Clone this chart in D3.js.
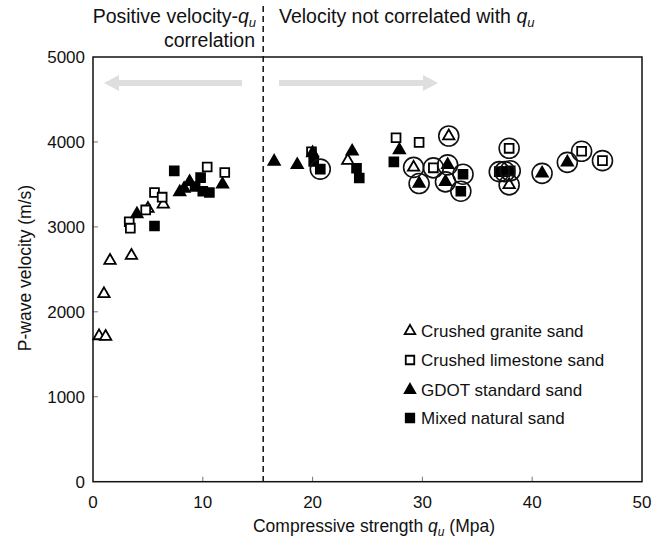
<html>
<head>
<script src="https://d3js.org/d3.v7.min.js"></script>
<style>
  body { margin: 0; background: #fff; }
  text { font-family: "Liberation Sans", Arial, sans-serif; fill: #111; }
</style>
</head>
<body>
<svg width="667" height="541"></svg>
<script>
// [qu (MPa), P-wave velocity (m/s), circled]
var granite = [[0.55,1716,0],[1.15,1708,0],[1.0,2211,0],[1.55,2604,0],[3.5,2663,0],[5.0,3215,0],[6.4,3265,0],
  [23.2,3780,0],[32.4,4070,1],[29.2,3700,1],[37.9,3495,1]];
var limestone = [[3.3,3060,0],[3.4,2985,0],[4.8,3200,0],[5.6,3405,0],[6.3,3350,0],[10.4,3705,0],[12.0,3640,0],
  [19.9,3885,0],[27.6,4050,0],[29.7,3995,0],[31.0,3695,1],[37.9,3925,1],[44.5,3890,1],[46.4,3780,1]];
var gdot = [[4.0,3150,0],[7.9,3410,0],[8.3,3450,0],[8.8,3530,0],[11.8,3500,0],[16.5,3770,0],[18.6,3730,0],
  [20.0,3870,0],[23.6,3890,0],[27.9,3905,0],[29.7,3510,1],[32.3,3730,1],[32.1,3530,1],[40.9,3630,1],[43.2,3760,1]];
var mixed = [[5.6,3010,0],[7.4,3660,0],[9.3,3475,0],[9.8,3580,0],[10.0,3420,0],[10.6,3405,0],[20.1,3770,0],
  [20.7,3680,1],[24.0,3690,0],[24.25,3575,0],[27.4,3765,0],[33.7,3620,1],[33.5,3420,1],[37.0,3650,1],[37.5,3650,1],[38.0,3660,1]];

var xTicks = [0, 10, 20, 30, 40, 50];
var yTicks = [0, 1000, 2000, 3000, 4000, 5000];
var splitQu = 15.5;

var svg = d3.select("svg");
var pLeft = 93, pRight = 642, pTop = 57, pBottom = 481.7;

var x = d3.scaleLinear().domain([0, 50]).range([pLeft, pRight]);
var y = d3.scaleLinear().domain([0, 5000]).range([pBottom, pTop]);

// light gray arrows
var arrowY = 83;
function arrow(x0, x1) {
  var dir = x1 > x0 ? 1 : -1, head = 15;
  svg.append("line").attr("x1", x0).attr("x2", x1 - dir * head).attr("y1", arrowY).attr("y2", arrowY)
    .attr("stroke", "#dedede").attr("stroke-width", 6);
  svg.append("path")
    .attr("d", "M" + x1 + "," + arrowY + "L" + (x1 - dir * head) + "," + (arrowY - 8) + "L" + (x1 - dir * head) + "," + (arrowY + 8) + "Z")
    .attr("fill", "#dedede");
}
arrow(242, 104);
arrow(279, 438);

// ticks (inside)
svg.append("g").selectAll("line").data(xTicks.slice(1, -1)).enter().append("line")
  .attr("x1", d => x(d)).attr("x2", d => x(d)).attr("y1", pBottom).attr("y2", pBottom - 5)
  .attr("stroke", "#777").attr("stroke-width", 1);
svg.append("g").selectAll("line").data(yTicks.slice(1, -1)).enter().append("line")
  .attr("x1", pLeft).attr("x2", pLeft + 5).attr("y1", d => y(d)).attr("y2", d => y(d))
  .attr("stroke", "#777").attr("stroke-width", 1);

// frame
svg.append("rect").attr("x", pLeft).attr("y", pTop).attr("width", pRight - pLeft).attr("height", pBottom - pTop)
  .attr("fill", "none").attr("stroke", "#111").attr("stroke-width", 1.5);

// tick labels
svg.append("g").selectAll("text").data(xTicks).enter().append("text")
  .attr("x", d => x(d)).attr("y", 508).attr("text-anchor", "middle").style("font-size", "17px").text(d => d);
svg.append("g").selectAll("text").data(yTicks).enter().append("text")
  .attr("x", 85).attr("y", d => y(d) + 6).attr("text-anchor", "end").style("font-size", "17px").text(d => d);

// axis titles
var xt = svg.append("text").attr("x", 374).attr("y", 532).attr("text-anchor", "middle").style("font-size", "17.5px");
xt.append("tspan").text("Compressive strength ");
xt.append("tspan").style("font-style", "italic").text("q");
xt.append("tspan").style("font-style", "italic").style("font-size", "12px").attr("dy", 4).text("u");
xt.append("tspan").attr("dy", -4).text(" (Mpa)");

svg.append("text").attr("transform", "translate(31,268) rotate(-90)").attr("text-anchor", "middle")
  .style("font-size", "17.5px").text("P-wave velocity (m/s)");

// region separator
svg.append("line").attr("x1", x(splitQu)).attr("x2", x(splitQu)).attr("y1", 6).attr("y2", pBottom)
  .attr("stroke", "#111").attr("stroke-width", 1.5).attr("stroke-dasharray", "6,4");

var t1 = svg.append("text").attr("x", 256).attr("y", 23).attr("text-anchor", "end").style("font-size", "19.5px");
t1.append("tspan").text("Positive velocity-");
t1.append("tspan").style("font-style", "italic").text("q");
t1.append("tspan").style("font-style", "italic").style("font-size", "13px").attr("dy", 4).text("u");
svg.append("text").attr("x", 255).attr("y", 47).attr("text-anchor", "end").style("font-size", "19.5px").text("correlation");

var t2 = svg.append("text").attr("x", 279).attr("y", 23).style("font-size", "19.5px");
t2.append("tspan").text("Velocity not correlated with ");
t2.append("tspan").style("font-style", "italic").text("q");
t2.append("tspan").style("font-style", "italic").style("font-size", "13px").attr("dy", 4).text("u");

// markers
var tri = d3.symbol().type(d3.symbolTriangle).size(56);
var sq = d3.symbol().type(d3.symbolSquare).size(78);
var series = [
  { data: granite, sym: tri, fill: "#fff", name: "Crushed granite sand" },
  { data: limestone, sym: sq, fill: "#fff", name: "Crushed limestone sand" },
  { data: gdot, sym: tri, fill: "#000", name: "GDOT standard sand" },
  { data: mixed, sym: sq, fill: "#000", name: "Mixed natural sand" }
];

series.forEach(function(s) {
  svg.append("g").selectAll("path").data(s.data).enter().append("path")
    .attr("d", s.sym())
    .attr("transform", d => "translate(" + x(d[0]) + "," + y(d[1]) + ")")
    .attr("fill", s.fill).attr("stroke", "#000").attr("stroke-width", 1.8);
});

var circled = [].concat(granite, limestone, gdot, mixed).filter(d => d[2] === 1);
svg.append("g").selectAll("circle").data(circled).enter().append("circle")
  .attr("cx", d => x(d[0])).attr("cy", d => y(d[1])).attr("r", 10)
  .attr("fill", "none").attr("stroke", "#111").attr("stroke-width", 1.6);

// legend
var legY = [331, 360, 390, 418];
var legSym = [d3.symbol().type(d3.symbolTriangle).size(48), d3.symbol().type(d3.symbolSquare).size(72),
  d3.symbol().type(d3.symbolTriangle).size(48), d3.symbol().type(d3.symbolSquare).size(72)];
series.forEach(function(s, i) {
  svg.append("path").attr("d", legSym[i]()).attr("transform", "translate(410," + legY[i] + ")")
    .attr("fill", s.fill).attr("stroke", "#000").attr("stroke-width", 1.8);
  svg.append("text").attr("x", 421).attr("y", legY[i] + 6).style("font-size", "17px").text(s.name);
});
</script>
</body>
</html>
